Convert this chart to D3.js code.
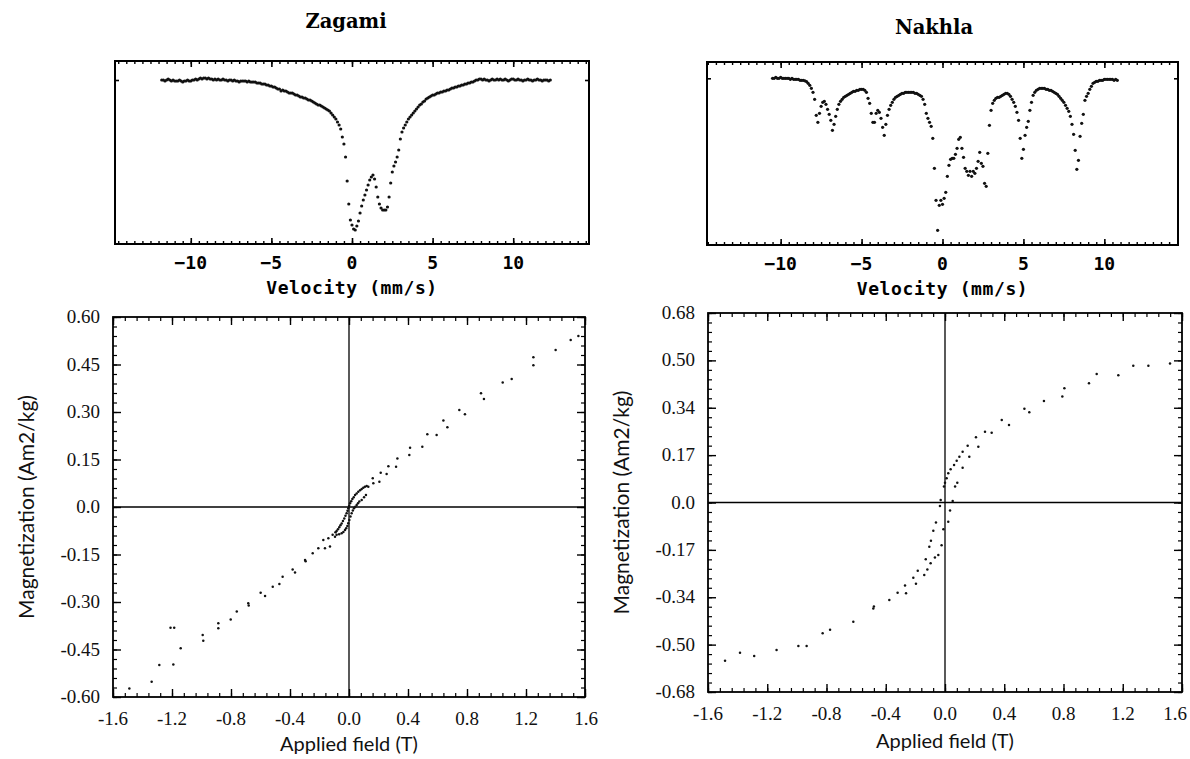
<!DOCTYPE html>
<html><head><meta charset="utf-8">
<script src="https://cdn.jsdelivr.net/npm/d3@7"></script>
<style>body{margin:0;background:#fff}</style>
</head><body>
<svg id="chart" width="1190" height="759"></svg>
<script>
// ---------------- DATA ----------------
// Mössbauer spectra: relative transmission (%) per channel
const zagamiVelStart = -11.8, zagamiVelStep = 0.1;
const zagamiTransmission = [
 100.0,100.0,99.9,100.0,100.1,100.0,99.9,100.0,99.9,99.9,
 99.9,100.0,99.9,99.8,99.9,99.9,100.0,99.9,99.9,100.0,
 100.0,100.1,100.0,100.1,100.2,100.1,100.2,100.2,100.1,100.2,
 100.1,100.1,100.0,100.1,100.0,100.1,100.0,100.0,100.1,100.0,
 100.0,99.9,100.0,100.0,99.9,100.0,99.9,99.9,99.8,99.9,
 99.9,99.9,99.9,99.8,99.9,99.8,99.8,99.8,99.8,99.7,
 99.7,99.7,99.6,99.6,99.6,99.5,99.5,99.4,99.4,99.3,
 99.3,99.2,99.1,99.1,98.9,99.0,98.9,98.9,98.8,98.7,
 98.7,98.7,98.6,98.5,98.5,98.4,98.3,98.3,98.2,98.2,
 98.1,98.0,98.0,97.9,97.8,97.7,97.6,97.5,97.5,97.4,
 97.3,97.2,97.1,97.0,96.9,96.7,96.5,96.3,96.1,95.8,
 95.5,95.1,94.3,93.6,92.3,89.9,87.6,86.0,85.5,85.1,
 85.0,85.4,85.9,86.7,87.4,88.0,88.5,89.0,89.5,90.0,
 90.3,90.5,90.1,89.3,88.3,87.6,87.2,87.0,87.0,87.0,
 87.3,88.3,89.7,90.8,91.4,91.8,92.3,93.0,94.1,94.8,
 95.2,95.5,95.8,96.1,96.3,96.5,96.7,96.9,97.1,97.3,
 97.5,97.6,97.8,97.9,98.1,98.2,98.3,98.4,98.5,98.5,
 98.6,98.7,98.7,98.8,98.8,98.9,98.9,99.0,99.0,99.1,
 99.2,99.2,99.3,99.3,99.4,99.4,99.5,99.5,99.6,99.6,
 99.7,99.7,99.8,99.8,99.9,100.0,100.0,100.1,100.1,100.0,
 100.1,100.0,100.0,99.9,100.0,100.1,100.0,100.0,100.1,100.0,
 100.1,100.0,100.0,100.1,100.0,99.9,100.0,100.1,100.1,100.0,
 100.0,100.1,100.0,100.0,99.9,100.0,100.0,100.1,100.0,100.0,
 99.9,100.0,100.0,100.1,100.0,100.0,99.9,100.0,100.0,100.0,
 99.9,100.0
];
const nakhlaVelStart = -10.5, nakhlaVelStep = 0.1;
const nakhlaTransmission = [
 100.0,100.0,100.1,100.0,100.0,100.1,100.0,100.0,100.0,100.0,
 100.0,99.9,100.0,99.9,99.9,99.9,99.9,99.8,99.8,99.8,
 99.75,99.67,99.5,99.3,99.0,98.6,97.9,96.3,95.6,96.5,
 97.2,97.6,97.7,97.4,96.9,96.4,95.8,94.8,95.4,96.2,
 96.9,97.4,97.7,97.9,98.1,98.2,98.3,98.4,98.5,98.6,
 98.7,98.7,98.8,98.8,98.9,98.9,98.9,98.8,98.6,98.0,
 97.5,96.5,95.6,95.6,96.5,96.8,96.6,96.0,95.1,94.3,
 95.4,96.3,96.9,97.3,97.6,97.9,98.1,98.2,98.3,98.4,
 98.5,98.5,98.6,98.6,98.6,98.6,98.6,98.6,98.5,98.5,
 98.4,98.3,98.2,97.9,97.4,96.5,96.0,95.6,95.2,94.0,
 91.0,87.8,84.8,87.3,87.8,87.4,88.0,88.6,90.2,91.3,
 91.9,92.0,92.0,92.4,93.0,93.9,94.1,93.0,92.1,91.0,
 90.7,90.3,90.7,90.2,90.7,90.5,91.0,91.7,92.6,91.5,
 91.2,89.5,89.2,92.5,95.3,96.8,97.5,97.8,98.0,98.1,
 98.1,98.2,98.3,98.4,98.5,98.5,98.4,98.2,97.9,97.6,
 97.2,96.6,95.8,94.0,92.0,92.9,94.3,95.1,95.7,96.8,
 97.6,98.3,98.6,98.8,98.9,99.0,99.0,99.0,99.0,98.9,
 98.9,98.8,98.8,98.7,98.6,98.5,98.4,98.2,98.0,97.8,
 97.6,97.3,97.0,96.7,96.2,95.4,94.4,92.8,90.9,91.8,
 94.2,95.5,96.4,97.8,98.2,98.5,98.9,99.2,99.5,99.6,
 99.7,99.7,99.8,99.8,99.8,99.9,99.9,99.9,99.9,99.9,
 99.9,99.8,99.9,99.8
];
const velocityTicks = [-10, -5, 0, 5, 10];

// Hysteresis: applied field (T) and magnetization (Am2/kg)
const zagamiField = [
 -1.489,-1.338,-1.286,-1.191,-1.210,-1.185,-1.141,-0.992,-0.988,-0.886,-0.886,-0.802,-0.761,-0.683,-0.680,
 -0.599,-0.569,-0.517,-0.472,-0.450,-0.382,-0.366,-0.298,-0.294,-0.246,-0.208,-0.174,-0.163,-0.140,-0.129,
 -0.111,-0.095,
 0.131,0.120,0.108,0.097,0.086,0.075,0.063,0.052,0.041,0.032,0.023,0.015,0.007,0.001,-0.005,-0.010,-0.016,
 -0.024,-0.032,-0.041,-0.050,-0.058,-0.066,-0.075,-0.084,-0.092,
 -0.084,-0.067,-0.050,-0.038,-0.027,-0.019,-0.011,-0.005,0.002,0.010,0.018,0.026,0.034,0.043,0.052,0.061,
 0.070,0.086,0.102,0.115,
 0.161,0.165,0.206,0.215,0.255,0.267,0.319,0.328,0.409,0.414,0.497,0.531,0.594,0.640,0.667,0.748,0.786,
 0.895,0.915,1.042,1.103,1.250,1.250,1.401,1.503,1.555
];
const zagamiMagnetization = [
 -0.573,-0.552,-0.499,-0.497,-0.381,-0.381,-0.446,-0.404,-0.422,-0.367,-0.383,-0.355,-0.330,-0.304,-0.311,
 -0.271,-0.281,-0.252,-0.243,-0.220,-0.197,-0.207,-0.167,-0.171,-0.146,-0.130,-0.104,-0.130,-0.099,-0.125,
 -0.088,-0.094,
 0.064,0.066,0.064,0.061,0.057,0.053,0.048,0.043,0.038,0.031,0.025,0.018,0.012,0.004,-0.004,-0.012,-0.020,
 -0.028,-0.036,-0.044,-0.052,-0.058,-0.064,-0.070,-0.076,-0.080,
 -0.088,-0.086,-0.083,-0.079,-0.073,-0.067,-0.060,-0.051,-0.041,-0.030,-0.020,-0.011,-0.004,0.001,0.006,0.012,
 0.017,0.022,0.031,0.038,
 0.091,0.075,0.080,0.108,0.104,0.129,0.127,0.153,0.164,0.187,0.190,0.230,0.227,0.273,0.252,0.306,0.293,
 0.359,0.341,0.393,0.404,0.473,0.448,0.496,0.527,0.540
];
const nakhlaField = [
 -1.485,-1.384,-1.288,-1.137,-0.990,-0.934,-0.826,-0.776,-0.619,-0.484,-0.480,-0.376,-0.320,
 -0.270,-0.263,-0.214,-0.196,-0.184,-0.140,-0.130,-0.119,-0.106,-0.097,-0.095,-0.079,-0.068,-0.061,-0.045,
 -0.034,-0.029,-0.023,-0.011,-0.007,0.000,0.011,0.022,0.022,0.034,0.038,0.052,0.061,0.068,0.083,0.079,
 0.097,0.119,0.119,0.153,0.164,0.209,0.225,0.270,0.315,0.383,0.432,0.536,0.569,0.668,0.792,0.806,
 0.972,1.024,1.170,1.271,1.373,1.519
];
const nakhlaMagnetization = [
 -0.568,-0.539,-0.551,-0.529,-0.515,-0.515,-0.469,-0.457,-0.428,-0.380,-0.373,-0.350,-0.324,
 -0.298,-0.326,-0.270,-0.292,-0.245,-0.260,-0.204,-0.240,-0.159,-0.218,-0.137,-0.101,-0.197,-0.072,-0.188,
 -0.013,0.009,-0.153,-0.096,0.057,0.071,0.087,-0.069,0.105,-0.029,0.119,0.005,0.135,0.057,0.071,0.150,
 0.164,0.182,0.125,0.204,0.164,0.234,0.200,0.254,0.250,0.296,0.278,0.336,0.324,0.364,0.380,0.410,
 0.428,0.461,0.457,0.491,0.491,0.499
];

const fieldTicks = [-1.6,-1.2,-0.8,-0.4,0,0.4,0.8,1.2,1.6];
const fieldTickLabels = ["-1.6","-1.2","-0.8","-0.4","0.0","0.4","0.8","1.2","1.6"];
const zagamiMagTicks = [-0.6,-0.45,-0.3,-0.15,0,0.15,0.3,0.45,0.6];
const zagamiMagTickLabels = ["-0.60","-0.45","-0.30","-0.15","0.0","0.15","0.30","0.45","0.60"];
const nakhlaMagTicks = [-0.68,-0.51,-0.34,-0.17,0,0.17,0.34,0.51,0.68];
const nakhlaMagTickLabels = ["-0.68","-0.50","-0.34","-0.17","0.0","0.17","0.34","0.50","0.68"];

// ---------------- DRAWING ----------------
const SERIF = "'Liberation Serif', 'Times New Roman', Times, 'DejaVu Serif', serif";
const svg = d3.select("#chart");
svg.append("rect").attr("width",1190).attr("height",759).attr("fill","#fff");

function tickLines(g, scale, vals, len, orient, pos, sw) {
  const ax = orient === "top" ? d3.axisBottom(scale)
           : orient === "bottom" ? d3.axisTop(scale)
           : orient === "left" ? d3.axisRight(scale) : d3.axisLeft(scale);
  const t = orient === "top" || orient === "bottom" ? `translate(0,${pos})` : `translate(${pos},0)`;
  const a = g.append("g").attr("transform", t)
    .call(ax.tickValues(vals).tickSize(len).tickFormat(""));
  a.select(".domain").remove();
  a.selectAll("line").attr("stroke","#000").attr("stroke-width",sw);
}

function mossbauer(o) {
  const x = d3.scaleLinear().domain(o.xDomain).range([o.left, o.left + o.width]);
  const y = d3.scaleLinear().domain(o.yDomain).range([o.top + o.height, o.top]);
  const g = svg.append("g");
  const minor = d3.range(-14.5, 14.51, 0.5);
  tickLines(g, x, minor, 3, "top", o.top, 1.4);
  tickLines(g, x, minor, 3, "bottom", o.top + o.height, 1.4);
  tickLines(g, x, velocityTicks, 6, "top", o.top, 1.6);
  tickLines(g, x, velocityTicks, 6, "bottom", o.top + o.height, 1.6);
  tickLines(g, y, [100], 4, "left", o.left, 1.6);
  tickLines(g, y, [100], 4, "right", o.left + o.width, 1.6);
  g.append("rect").attr("x", o.left).attr("y", o.top).attr("width", o.width).attr("height", o.height)
    .attr("fill","none").attr("stroke","#000").attr("stroke-width",2);
  const pts = o.values.map((t, i) => [o.vStart + i * o.vStep, t]);
  g.selectAll("circle.pt").data(pts).join("circle").attr("class","pt")
    .attr("cx", d => x(d[0])).attr("cy", d => y(d[1])).attr("r", 1.6).attr("fill","#111");
  g.selectAll("text.xt").data(velocityTicks).join("text").attr("class","xt")
    .attr("x", d => x(d)).attr("y", o.top + o.height + 25)
    .attr("text-anchor","middle").attr("font-family","DejaVu Sans Mono").attr("font-weight","bold")
    .attr("font-size",18).text(d => d < 0 ? "\u2212" + Math.abs(d) : String(d));
  g.append("text").attr("x", x(0)).attr("y", o.top + o.height + 50).attr("text-anchor","middle")
    .attr("font-family","DejaVu Sans Mono").attr("font-weight","bold").attr("font-size",18)
    .attr("letter-spacing","0.6px").text("Velocity (mm/s)");
  g.append("text").attr("x", o.titleX).attr("y", o.titleY).attr("text-anchor","middle")
    .attr("font-family","DejaVu Serif").attr("font-weight","bold").attr("font-size",19.5).text(o.title);
}

mossbauer({left:115, top:61, width:474, height:183, xDomain:[-14.7,14.7], yDomain:[83.6,101.9],
  vStart: zagamiVelStart, vStep: zagamiVelStep, values: zagamiTransmission,
  title:"Zagami", titleX:346, titleY:28});
mossbauer({left:707, top:62, width:471, height:183, xDomain:[-14.55,14.55], yDomain:[83.33,101.63],
  vStart: nakhlaVelStart, vStep: nakhlaVelStep, values: nakhlaTransmission,
  title:"Nakhla", titleX:934, titleY:34});

function hysteresis(o) {
  const x = d3.scaleLinear().domain([-1.6, 1.6]).range([o.left, o.left + o.width]);
  const y = d3.scaleLinear().domain([-o.yMax, o.yMax]).range([o.top + o.height, o.top]);
  const g = svg.append("g");
  const xMinor = d3.range(-1.6, 1.601, 0.08);
  const yMinor = d3.range(-o.yMax, o.yMax + 1e-6, o.yMax / 20);
  tickLines(g, x, xMinor, 4, "top", o.top, 1.2);
  tickLines(g, x, xMinor, 4, "bottom", o.top + o.height, 1.2);
  tickLines(g, x, fieldTicks, 8, "top", o.top, 1.4);
  tickLines(g, x, fieldTicks, 8, "bottom", o.top + o.height, 1.4);
  tickLines(g, y, yMinor, 4, "left", o.left, 1.2);
  tickLines(g, y, yMinor, 4, "right", o.left + o.width, 1.2);
  tickLines(g, y, o.yTicks, 8, "left", o.left, 1.4);
  tickLines(g, y, o.yTicks, 8, "right", o.left + o.width, 1.4);
  g.append("rect").attr("x", o.left).attr("y", o.top).attr("width", o.width).attr("height", o.height)
    .attr("fill","none").attr("stroke","#000").attr("stroke-width",1.8);
  g.append("line").attr("x1", x(0)).attr("x2", x(0)).attr("y1", o.top).attr("y2", o.top + o.height)
    .attr("stroke","#000").attr("stroke-width",1.3);
  g.append("line").attr("x1", o.left).attr("x2", o.left + o.width).attr("y1", y(0)).attr("y2", y(0))
    .attr("stroke","#000").attr("stroke-width",1.3);
  const pts = o.field.map((h, i) => [h, o.mag[i]]);
  g.selectAll("circle.pt").data(pts).join("circle").attr("class","pt")
    .attr("cx", d => x(d[0])).attr("cy", d => y(d[1])).attr("r", 1.25).attr("fill","#111");
  const n = fieldTicks.length;
  g.selectAll("text.xt").data(fieldTicks).join("text").attr("class","xt")
    .attr("x", (d, i) => i === n - 1 ? Math.min(x(d) + 13, 1187) : x(d))
    .attr("y", o.top + o.height + 28)
    .attr("text-anchor", (d, i) => i === n - 1 ? "end" : "middle")
    .attr("font-family", SERIF).attr("font-size",19).attr("fill","#111")
    .text((d, i) => fieldTickLabels[i]);
  g.selectAll("text.yt").data(o.yTicks).join("text").attr("class","yt")
    .attr("x", o.left - 13).attr("y", d => y(d) + 6).attr("text-anchor","end")
    .attr("font-family", SERIF).attr("font-size",19).attr("fill","#111")
    .text((d, i) => o.yLabels[i]);
  g.append("text").attr("x", x(0)).attr("y", o.xTitleY).attr("text-anchor","middle")
    .attr("font-family","Lato").attr("font-size",20).attr("fill","#111").text("Applied field (T)");
  g.append("text").attr("transform", `translate(${o.yTitleX},${y(0)}) rotate(-90)`)
    .attr("text-anchor","middle").attr("font-family","Lato").attr("font-size",21).attr("fill","#111")
    .text("Magnetization (Am2/kg)");
}

hysteresis({left:113, top:317, width:472, height:380, yMax:0.6, yTicks: zagamiMagTicks,
  yLabels: zagamiMagTickLabels, field: zagamiField, mag: zagamiMagnetization, xTitleY:751, yTitleX:34});
hysteresis({left:708, top:313, width:474, height:379, yMax:0.68, yTicks: nakhlaMagTicks,
  yLabels: nakhlaMagTickLabels, field: nakhlaField, mag: nakhlaMagnetization, xTitleY:748, yTitleX:629});
</script>
</body></html>
